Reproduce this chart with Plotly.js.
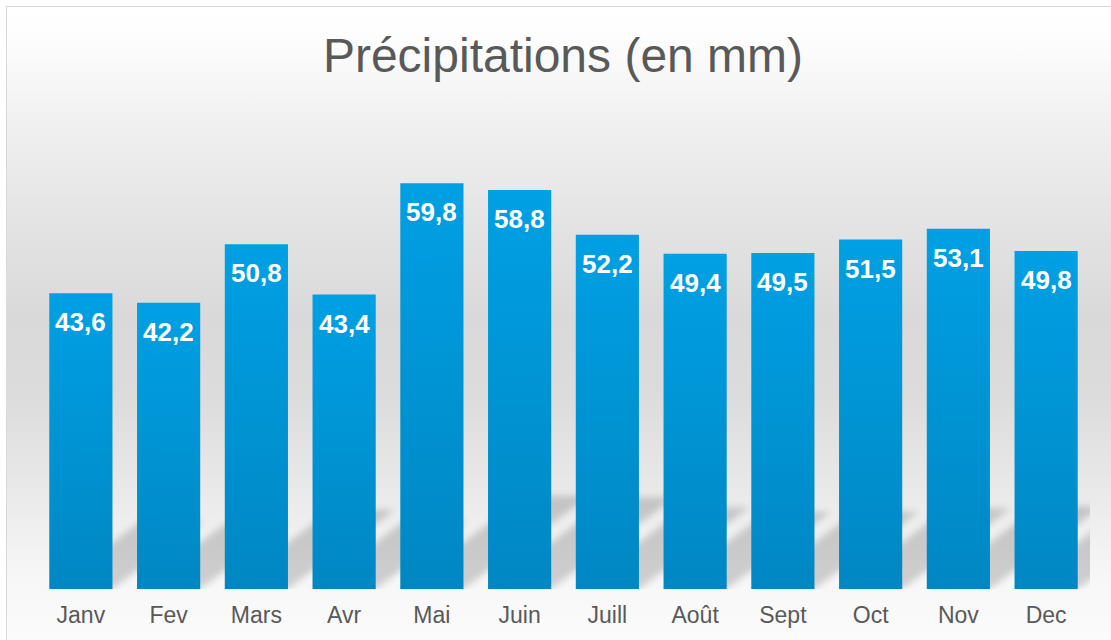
<!DOCTYPE html>
<html>
<head>
<meta charset="utf-8">
<script src="https://cdn.plot.ly/plotly-3.0.1.min.js"></script>
<style>
  html, body { margin: 0; padding: 0; width: 1111px; height: 640px; overflow: hidden; background: #ffffff; }
  #bg { position: absolute; left: 6px; top: 6px; width: 1120px; height: 650px; border: 1px solid #d9d9d9;
        background: linear-gradient(to bottom, #ffffff 0%, #fdfdfd 5%, #f3f3f3 15%, #e6e6e6 30%, #d9d9d9 48%, #dcdcdc 60%, #e9e9e9 74%, #f7f7f7 88%, #fcfcfc 100%); }
  #chart { position: absolute; left: 0; top: 0; width: 1111px; height: 640px; }
</style>
</head>
<body>
<div id="bg"></div>
<div id="chart"></div>
<script>
const months = ["Janv", "Fev", "Mars", "Avr", "Mai", "Juin", "Juill", "Août", "Sept", "Oct", "Nov", "Dec"];
const precipitation = [43.6, 42.2, 50.8, 43.4, 59.8, 58.8, 52.2, 49.4, 49.5, 51.5, 53.1, 49.8];
const chartTitle = "Précipitations (en mm)";

const W = 1111, H = 640;
const margin = { l: 37, r: 21, t: 114, b: 51 };
const yMax = 70;
const barWidth = 0.72;
const idx = months.map((m, i) => i);

const pxPerX = (W - margin.l - margin.r) / months.length;
const pxPerY = (H - margin.t - margin.b) / yMax;

const font = "Liberation Sans, Arial, sans-serif";

// perspective shadows computed from the data values
const shadowRatio = 0.23, shadowSlant = 1.35;
const shapes = precipitation.map((v, i) => {
  const dPx = shadowRatio * v * pxPerY;
  const dx = shadowSlant * dPx / pxPerX;
  const dy = dPx / pxPerY;
  const x0 = i - barWidth / 2, x1 = i + barWidth / 2;
  return {
    type: "path", layer: "below", xref: "x", yref: "y",
    path: `M ${x0} 0 L ${x1} 0 L ${x1 + dx} ${dy} L ${x0 + dx} ${dy} Z`,
    fillcolor: "rgba(0,0,0,0.17)", line: { width: 0 }
  };
});

const annotations = precipitation.map((v, i) => ({
  x: i, y: v, xref: "x", yref: "y",
  text: v.toFixed(1).replace(".", ","),
  showarrow: false, yanchor: "top", yshift: -12,
  font: { family: font, size: 26, color: "#ffffff", weight: "bold" }
}));

const trace = {
  type: "bar", x: idx, y: precipitation, width: barWidth,
  marker: { color: "#0096d6", line: { width: 0 } },
  hoverinfo: "none"
};

const layout = {
  width: W, height: H, margin: margin,
  paper_bgcolor: "rgba(0,0,0,0)", plot_bgcolor: "rgba(0,0,0,0)",
  showlegend: false,
  title: { text: chartTitle, x: 563 / W, xref: "container", xanchor: "center",
           y: 1 - 55 / H, yref: "container", yanchor: "middle",
           font: { family: font, size: 48, color: "#595959" } },
  xaxis: { range: [-0.5, 11.5], tickmode: "array", tickvals: idx, ticktext: months,
           showgrid: false, zeroline: false, showline: false, ticks: "", ticklabelstandoff: 10,
           tickfont: { family: font, size: 23, color: "#595959" }, fixedrange: true },
  yaxis: { range: [0, yMax], visible: false, showgrid: false, zeroline: false, fixedrange: true },
  shapes: shapes,
  annotations: annotations
};

Plotly.newPlot("chart", [trace], layout, { staticPlot: true, displayModeBar: false }).then(gd => {
  const NS = "http://www.w3.org/2000/svg";
  const svg = gd.querySelector("svg.main-svg");
  let defs = svg.querySelector("defs");
  if (!defs) { defs = document.createElementNS(NS, "defs"); svg.insertBefore(defs, svg.firstChild); }
  const grad = document.createElementNS(NS, "linearGradient");
  grad.setAttribute("id", "barGrad");
  grad.setAttribute("x1", "0"); grad.setAttribute("y1", "0");
  grad.setAttribute("x2", "0"); grad.setAttribute("y2", "1");
  [["0", "#00a0e4"], ["1", "#0087c3"]].forEach(([o, c]) => {
    const st = document.createElementNS(NS, "stop");
    st.setAttribute("offset", o); st.setAttribute("stop-color", c);
    grad.appendChild(st);
  });
  defs.appendChild(grad);
  const filt = document.createElementNS(NS, "filter");
  filt.setAttribute("id", "shBlur");
  filt.setAttribute("filterUnits", "userSpaceOnUse");
  filt.setAttribute("x", "0"); filt.setAttribute("y", "0");
  filt.setAttribute("width", String(W)); filt.setAttribute("height", String(H));
  const gb = document.createElementNS(NS, "feGaussianBlur");
  gb.setAttribute("stdDeviation", "3.5");
  filt.appendChild(gb);
  defs.appendChild(filt);
  gd.querySelectorAll(".barlayer .point path").forEach(p => { p.style.fill = "url(#barGrad)"; });
  gd.querySelectorAll(".shapelayer path").forEach(p => {
    p.setAttribute("filter", "url(#shBlur)");
    p.style.filter = "url(#shBlur)";
  });
});
</script>
</body>
</html>
